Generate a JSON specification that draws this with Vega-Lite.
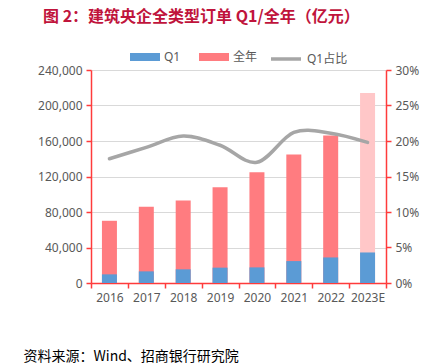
{
  "$schema": "https://vega.github.io/schema/vega-lite/v6.json",
  "width": 295,
  "height": 213,
  "padding": {"left": 23, "top": 9, "right": 10, "bottom": 0},
  "title": {
    "text": "图 2：建筑央企全类型订单 Q1/全年（亿元）",
    "anchor": "start",
    "frame": "group",
    "dx": -48,
    "color": "#C0143C",
    "font": "Noto Sans CJK SC",
    "fontSize": 16,
    "fontWeight": "bold",
    "offset": 22
  },
  "config": {
    "view": {"stroke": null},
    "font": "Noto Sans, Noto Sans CJK SC",
    "axis": {
      "labelFont": "Noto Sans, Noto Sans CJK SC",
      "labelFontSize": 12,
      "labelColor": "#595959",
      "domainColor": "#FF3B3B",
      "tickColor": "#FF3B3B",
      "domainWidth": 1.5,
      "tickWidth": 1.5,
      "tickSize": 5
    },
    "legend": {
      "labelFont": "Noto Sans, Noto Sans CJK SC",
      "labelFontSize": 12,
      "labelColor": "#595959"
    }
  },
  "data": {
    "values": [
      {"year": "2016", "q1": 9750, "full": 70100, "ratio": 0.175},
      {"year": "2017", "q1": 13100, "full": 85900, "ratio": 0.191},
      {"year": "2018", "q1": 15400, "full": 93000, "ratio": 0.207},
      {"year": "2019", "q1": 17300, "full": 108000, "ratio": 0.194},
      {"year": "2020", "q1": 17600, "full": 124700, "ratio": 0.170},
      {"year": "2021", "q1": 24700, "full": 144900, "ratio": 0.212},
      {"year": "2022", "q1": 28800, "full": 166300, "ratio": 0.211},
      {"year": "2023E", "q1": 34400, "full": 214200, "ratio": 0.198}
    ]
  },
  "encoding": {
    "x": {
      "field": "year",
      "type": "ordinal",
      "scale": {"paddingInner": 0, "paddingOuter": 0},
      "axis": {
        "title": "资料来源：Wind、招商银行研究院",
        "titleFont": "Noto Sans CJK SC",
        "titleFontSize": 14,
        "titleFontWeight": "normal",
        "titleColor": "#000000",
        "titleAnchor": "start",
        "titleAlign": "left",
        "titleX": -68,
        "titleY": 66,
        "labelAngle": 0,
        "labelPadding": 4,
        "tickBand": "extent",
        "grid": false
      }
    }
  },
  "layer": [
    {
      "layer": [
        {
          "mark": {"type": "bar", "size": 15},
          "encoding": {
            "y": {
              "field": "full",
              "type": "quantitative",
              "scale": {"domain": [0, 240000]},
              "axis": {
                "title": null,
                "format": ",.0f",
                "values": [0, 40000, 80000, 120000, 160000, 200000, 240000],
                "grid": true,
                "gridColor": "#D9D9D9",
                "labelPadding": 4
              }
            },
            "fill": {
              "datum": "全年",
              "condition": {"test": "datum.year === '2023E'", "value": "#FFC7C8"},
              "scale": {"domain": ["Q1", "全年"], "range": ["#5B9BD5", "#FF7C80"]},
              "legend": {
                "title": null,
                "orient": "none",
                "direction": "horizontal",
                "legendX": 39,
                "legendY": -23,
                "symbolType": "M-1,-0.4H2V0.4H-1Z",
                "symbolSize": 400,
                "symbolStrokeWidth": 0,
                "labelOffset": 14,
                "columnPadding": 18
              }
            }
          }
        },
        {
          "mark": {"type": "bar", "size": 15},
          "encoding": {
            "y": {
              "field": "q1",
              "type": "quantitative",
              "scale": {"domain": [0, 240000]},
              "axis": {
                "title": null,
                "format": ",.0f",
                "values": [0, 40000, 80000, 120000, 160000, 200000, 240000],
                "grid": true,
                "gridColor": "#D9D9D9",
                "labelPadding": 4
              }
            },
            "fill": {"datum": "Q1"}
          }
        }
      ]
    },
    {
      "mark": {"type": "line", "interpolate": "cardinal", "strokeWidth": 3.5, "strokeCap": "round"},
      "encoding": {
        "y": {
          "field": "ratio",
          "type": "quantitative",
          "scale": {"domain": [0, 0.3]},
          "axis": {
            "title": null,
            "orient": "right",
            "format": ".0%",
            "values": [0, 0.05, 0.1, 0.15, 0.2, 0.25, 0.3],
            "grid": false,
            "labelPadding": 4
          }
        },
        "stroke": {
          "datum": "Q1占比",
          "scale": {"range": ["#A6A6A6"]},
          "legend": {
            "title": null,
            "orient": "none",
            "direction": "horizontal",
            "legendX": 178,
            "legendY": -23,
            "symbolType": "M-1,0H2",
            "symbolSize": 400,
            "symbolStrokeWidth": 3.5,
            "labelOffset": 14
          }
        }
      }
    }
  ],
  "resolve": {"scale": {"y": "independent"}}
}
